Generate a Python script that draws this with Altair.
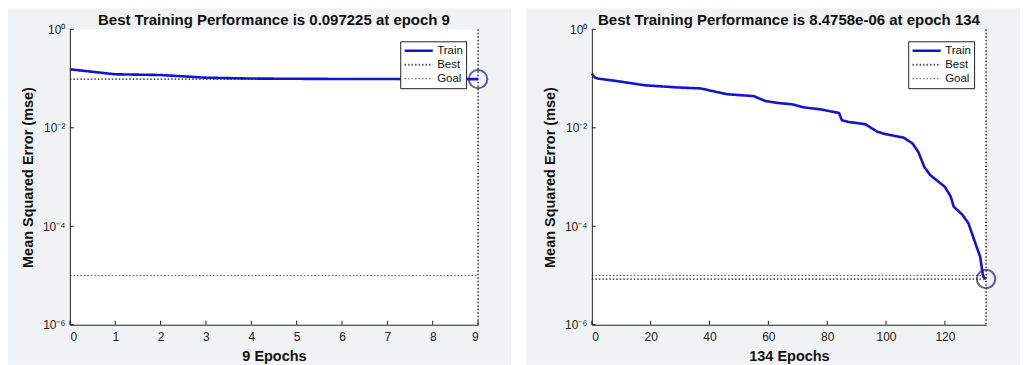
import altair as alt
import pandas as pd

# ---------------- data ----------------
series_names = ["Train", "Best", "Goal"]
y_ticks = [1, 1e-2, 1e-4, 1e-6]
y_tick_exps = [0, -2, -4, -6]
y_tick_labels = ["10⁰", "10⁻²", "10⁻⁴", "10⁻⁶"]
y_title = "Mean Squared Error  (mse)"

left_epochs = [0, 1, 2, 3, 4, 5, 6, 7, 8, 9]
left_train = [0.154, 0.122, 0.118, 0.104, 0.100, 0.0988, 0.0980, 0.0976, 0.0974, 0.097225]
left_best_epoch = 9
left_best = 0.097225
left_goal = 1e-5
left_title = "Best Training Performance is 0.097225 at epoch 9"
left_xlabel = "9 Epochs"
left_xticks = [0, 1, 2, 3, 4, 5, 6, 7, 8, 9]

right_epochs = [0, 1, 2, 9, 18, 29, 37, 42, 46, 55, 59, 63, 68, 72, 78, 84, 85, 87,
                93, 97, 100, 106, 109, 111, 113, 115, 120, 122, 123, 126, 128, 130,
                132, 133, 134]
right_train = [0.126, 0.105, 0.100, 0.088, 0.073, 0.066, 0.063, 0.054, 0.048, 0.044,
               0.035, 0.032, 0.030, 0.026, 0.0235, 0.020, 0.0142, 0.0132, 0.0118,
               0.0083, 0.0074, 0.0063, 0.0048, 0.0032, 0.0016, 0.0011, 0.00063,
               0.00040, 0.00025, 0.00017, 0.000115, 5.2e-5, 2.4e-5, 9.5e-6, 8.4758e-6]
right_best_epoch = 134
right_best = 8.4758e-6
right_goal = 1e-5
right_title = "Best Training Performance is 8.4758e-06 at epoch 134"
right_xlabel = "134 Epochs"
right_xticks = [0, 20, 40, 60, 80, 100, 120]

# ---------------- style ----------------
FONT = "Liberation Sans"
BLUE = "#1414cc"
NAVY = "#1c1c80"
REF = "#555555"
PANEL = "#F0F2F4"
H = 296

label_expr = ""
for e, lab in zip(y_tick_exps, y_tick_labels):
    label_expr += f"round(log(datum.value)/LN10) == {e} ? '{lab}' : "
label_expr += "''"


def panel(epochs, train, best_epoch, best, goal, title, xlabel, xticks, W, left_pad, right_pad):
    xmax = epochs[-1]
    xs = alt.Scale(domain=[0, xmax], nice=False, zero=False)
    ys = alt.Scale(type="log", domain=[y_ticks[-1], y_ticks[0]], nice=False)
    X = alt.X("epoch:Q", scale=xs,
              axis=alt.Axis(values=xticks, title=xlabel, ticks=False, tickSize=0,
                            labelPadding=7, titlePadding=7, grid=False, zindex=1,
                            domainColor="#222", labelColor="#222", titleColor="#111",
                            labelFontSize=12, titleFontSize=14.5, titleFontWeight="bold",
                            labelFont=FONT, titleFont=FONT))
    Y = alt.Y("mse:Q", scale=ys,
              axis=alt.Axis(values=y_ticks, labelExpr=label_expr, title=y_title,
                            ticks=False, tickSize=0, labelPadding=5, titlePadding=7,
                            grid=False, zindex=1, domainColor="#222", labelColor="#222",
                            titleColor="#111", labelFontSize=12, titleFontSize=14.5,
                            titleFontWeight="bold", labelFont=FONT, titleFont=FONT))

    leg = alt.Legend(title=None, orient="top-right", offset=12, strokeColor="#222",
                     fillColor="white", padding=3, rowPadding=1, labelFontSize=11.5,
                     labelFont=FONT, labelColor="#111", symbolType="stroke",
                     symbolSize=800, labelOffset=3, clipHeight=13)
    C = alt.Color("series:N", scale=alt.Scale(domain=series_names, range=[BLUE, REF, REF]), legend=leg)
    D = alt.StrokeDash("series:N", scale=alt.Scale(domain=series_names, range=[[1, 0], [1.5, 2], [1.5, 2]]), legend=leg)
    S = alt.StrokeWidth("series:N", scale=alt.Scale(domain=series_names, range=[2.6, 1, 1]), legend=leg)

    train_df = pd.DataFrame({"epoch": epochs, "mse": train, "series": "Train", "seg": "t"})
    ref_df = pd.DataFrame({
        "epoch": [0, xmax, best_epoch, best_epoch, 0, xmax],
        "mse": [best, best, y_ticks[0], y_ticks[-1], goal, goal],
        "series": ["Best", "Best", "Best", "Best", "Goal", "Goal"],
        "seg": ["bh", "bh", "bv", "bv", "g", "g"],
    })
    one = pd.DataFrame({"t": [title]})

    bg = alt.Chart(one).mark_rect(color=PANEL).encode(
        x=alt.value(-left_pad), x2=alt.value(W + right_pad),
        y=alt.value(-21), y2=alt.value(H + 40))
    plot_bg = alt.Chart(one).mark_rect(color="white").encode(
        x=alt.value(0), x2=alt.value(W), y=alt.value(0), y2=alt.value(H))
    ttl = alt.Chart(one).mark_text(font=FONT, fontSize=15, fontWeight="bold",
                                   color="#111", baseline="alphabetic").encode(
        text="t:N", x=alt.value(W / 2), y=alt.value(-4))
    refs = alt.Chart(ref_df).mark_line().encode(x=X, y=Y, color=C, strokeDash=D,
                                                strokeWidth=S, detail="seg:N")
    line = alt.Chart(train_df).mark_line().encode(x=X, y=Y, color=C, strokeDash=D,
                                                  strokeWidth=S, detail="seg:N")
    circ = alt.Chart(pd.DataFrame({"epoch": [best_epoch], "mse": [best]})).mark_point(
        shape="circle", size=340, filled=False, strokeWidth=2, color=NAVY).encode(x=X, y=Y)
    xt = alt.Chart(pd.DataFrame({"epoch": xticks})).mark_rule(color="#222").encode(
        x=X, y=alt.value(H), y2=alt.value(H - 4))
    yt = alt.Chart(pd.DataFrame({"mse": y_ticks})).mark_rule(color="#222").encode(
        y=Y, x=alt.value(0), x2=alt.value(4))

    return alt.layer(bg, plot_bg, ttl, refs, line, circ, xt, yt).properties(width=W, height=H)


left = panel(left_epochs, left_train, left_best_epoch, left_best, left_goal,
             left_title, left_xlabel, left_xticks, 409, 62, 33)
right = panel(right_epochs, right_train, right_best_epoch, right_best, right_goal,
              right_title, right_xlabel, right_xticks, 395, 66, 34)

chart = alt.hconcat(left, right, spacing=15).resolve_scale(
    x="independent", y="independent", color="independent",
    strokeDash="independent", strokeWidth="independent"
).resolve_legend(
    color="independent", strokeDash="independent", strokeWidth="independent"
).properties(padding=0, background="white").configure_view(strokeWidth=0)

chart.save("out.html", embed_options={"renderer": "svg", "actions": False})
